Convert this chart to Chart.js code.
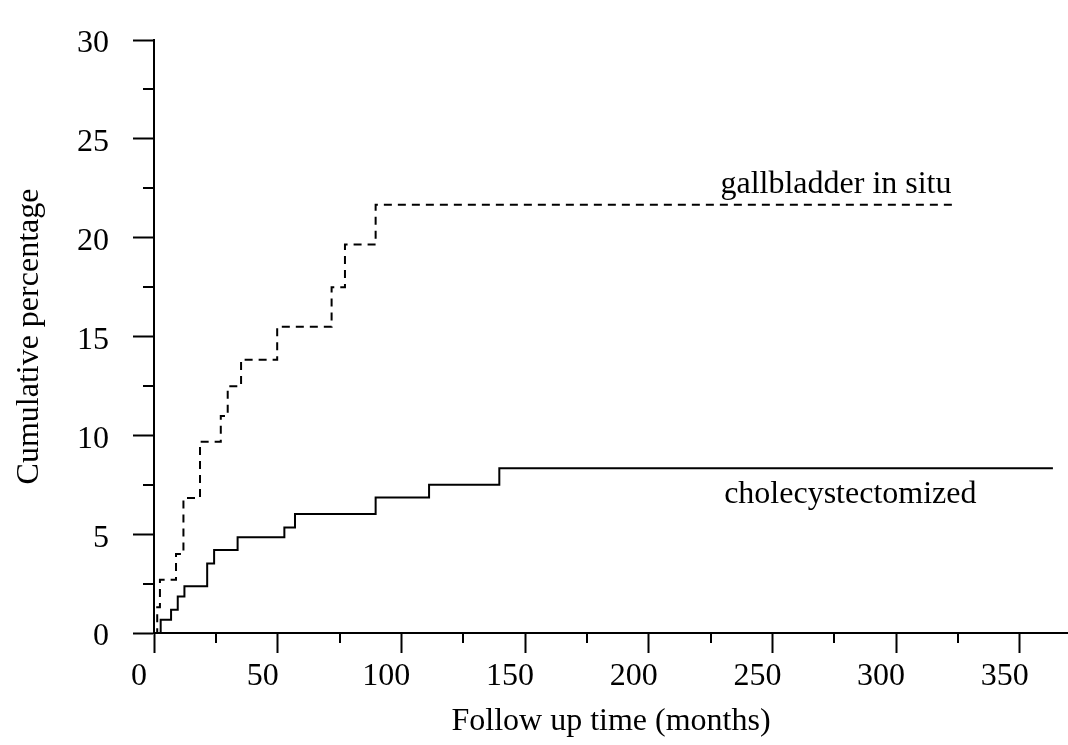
<!DOCTYPE html>
<html>
<head>
<meta charset="utf-8">
<script src="https://cdn.jsdelivr.net/npm/chart.js@4/dist/chart.umd.min.js"></script>
<style>
  html, body { margin: 0; padding: 0; background: #fff; }
  #wrap { width: 1068px; height: 745px; }
</style>
</head>
<body>
<div id="wrap"><canvas id="kmChart"></canvas></div>
<script>
// 読み取った値（月, 累積%）
const gallTimes  = [0, 1.3, 2.4, 8.9, 11.9, 18.6, 27.0, 29.8, 35.2, 49.8, 71.8, 77.2, 89.6, 324.6];
const gallValues = [0, 1.3, 2.7, 4.0, 6.83, 9.68, 10.98, 12.48, 13.83, 15.49, 17.49, 19.65, 21.66, 21.66];

const choleTimes  = [0, 2.7, 6.9, 9.6, 12.3, 21.5, 24.3, 33.8, 52.7, 57.0, 89.6, 111.2, 139.6, 363.4];
const choleValues = [0, 0.67, 1.17, 1.85, 2.37, 3.52, 4.2, 4.85, 5.34, 6.02, 6.85, 7.5, 8.33, 8.33];

const xTicks = [0, 50, 100, 150, 200, 250, 300, 350];
const yTicks = [0, 5, 10, 15, 20, 25, 30];
const xMinorTicks = [25, 75, 125, 175, 225, 275, 325];
const yMinorTicks = [2.5, 7.5, 12.5, 17.5, 22.5, 27.5];

const FONT = 'Liberation Serif, Times New Roman, serif';

const toPoints = (xs, ys) => xs.map((x, i) => ({ x: x, y: ys[i] }));

// 補助目盛り（短いティック）
const minorTicksPlugin = {
    id: 'minorTicks',
    afterDraw(chart) {
        const ctx = chart.ctx;
        const xs = chart.scales.x;
        const ys = chart.scales.y;
        const area = chart.chartArea;
        ctx.save();
        ctx.strokeStyle = '#000';
        ctx.lineWidth = 2;
        ctx.beginPath();
        xMinorTicks.forEach(v => {
            const px = Math.round(xs.getPixelForValue(v));
            ctx.moveTo(px, area.bottom);
            ctx.lineTo(px, area.bottom + 10);
        });
        yMinorTicks.forEach(v => {
            const py = Math.round(ys.getPixelForValue(v));
            ctx.moveTo(area.left, py);
            ctx.lineTo(area.left - 11, py);
        });
        ctx.stroke();
        ctx.restore();
    }
};

// 線の横のラベル
const seriesLabelPlugin = {
    id: 'seriesLabels',
    afterDatasetsDraw(chart) {
        const ctx = chart.ctx;
        const xs = chart.scales.x;
        const ys = chart.scales.y;
        ctx.save();
        ctx.fillStyle = '#000';
        ctx.font = '32px ' + FONT;
        ctx.textAlign = 'center';
        ctx.textBaseline = 'alphabetic';
        ctx.fillText('gallbladder in situ', xs.getPixelForValue(275.7), ys.getPixelForValue(22.26));
        ctx.fillText('cholecystectomized', xs.getPixelForValue(281.5), ys.getPixelForValue(6.58));
        ctx.restore();
    }
};

new Chart(document.getElementById('kmChart').getContext('2d'), {
    type: 'line',
    data: {
        datasets: [{
            label: 'gallbladder in situ',
            data: toPoints(gallTimes, gallValues),
            borderColor: '#000',
            borderWidth: 2,
            borderDash: [8, 6],
            stepped: 'before',
            pointRadius: 0,
            fill: false,
        }, {
            label: 'cholecystectomized',
            data: toPoints(choleTimes, choleValues),
            borderColor: '#000',
            borderWidth: 2,
            stepped: 'before',
            pointRadius: 0,
            fill: false,
        }]
    },
    options: {
        responsive: true,
        maintainAspectRatio: false,
        animation: false,
        devicePixelRatio: 1,
        layout: { padding: { top: 17, right: 0, left: 0, bottom: 0 } },
        plugins: {
            legend: { display: false },
            tooltip: { enabled: false },
        },
        scales: {
            x: {
                type: 'linear',
                min: 0,
                max: 369.5,
                afterBuildTicks: scale => { scale.ticks = xTicks.map(v => ({ value: v })); },
                afterFit: scale => { scale.height = 112; },
                ticks: {
                    color: '#000',
                    font: { family: FONT, size: 32, lineHeight: 1 },
                    padding: 8,
                    labelOffset: -15,
                    maxRotation: 0,
                },
                grid: {
                    drawOnChartArea: false,
                    drawTicks: true,
                    tickLength: 20,
                    tickWidth: 2,
                    tickColor: '#000',
                },
                border: { display: true, color: '#000', width: 2 },
                title: {
                    display: true,
                    text: 'Follow up time (months)',
                    color: '#000',
                    font: { family: FONT, size: 32, lineHeight: 1 },
                    padding: { top: 0, bottom: 7 },
                }
            },
            y: {
                type: 'linear',
                min: 0,
                max: 30,
                afterBuildTicks: scale => { scale.ticks = yTicks.map(v => ({ value: v })); },
                afterFit: scale => { scale.width = 154; },
                ticks: {
                    color: '#000',
                    font: { family: FONT, size: 32, lineHeight: 1 },
                    padding: 24,
                    labelOffset: 4,
                },
                grid: {
                    drawOnChartArea: false,
                    drawTicks: true,
                    tickLength: 21,
                    tickWidth: 2,
                    tickColor: '#000',
                },
                border: { display: true, color: '#000', width: 2 },
                title: {
                    display: true,
                    text: 'Cumulative percentage',
                    color: '#000',
                    font: { family: FONT, size: 32, lineHeight: 1 },
                    padding: { top: 14, bottom: 0 },
                }
            }
        }
    },
    plugins: [minorTicksPlugin, seriesLabelPlugin]
});
</script>
</body>
</html>
